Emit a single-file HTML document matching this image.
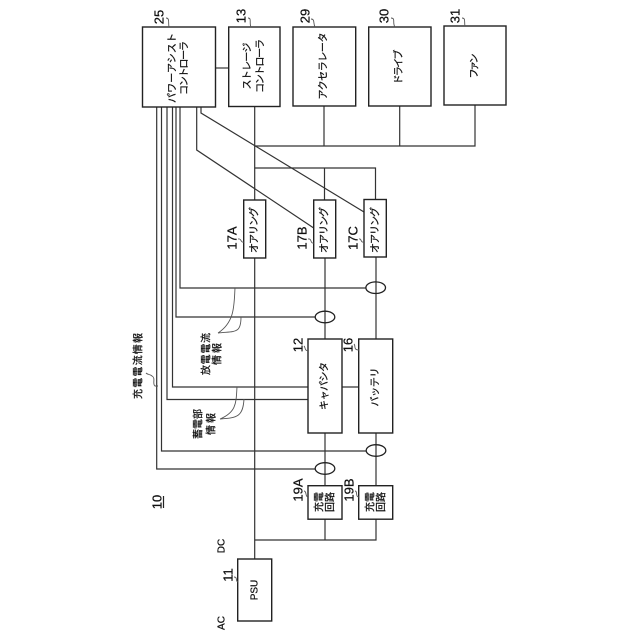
<!DOCTYPE html>
<html lang="ja"><head><meta charset="utf-8"><style>
html,body{margin:0;padding:0;background:#fff}
svg{display:block}
text{font-family:"Liberation Sans","Noto Sans CJK JP",sans-serif;fill:#111;stroke:#111;stroke-width:.25;text-anchor:middle;dominant-baseline:central;font-size:10px}
.n{font-size:13px}
.b{fill:#fff;stroke:#222;stroke-width:1.4}
.l{fill:none;stroke:#333;stroke-width:1.2}
.t{fill:none;stroke:#555;stroke-width:.9}
</style></head><body>
<svg width="640" height="640" viewBox="0 0 640 640" xmlns="http://www.w3.org/2000/svg">
<!-- wires -->
<g class="l">
<path d="M215.500 68H229"/>
<path d="M254.700 106V559"/>
<path d="M254.700 146H475V105M324 106V146M399.700 106V146"/>
<path d="M254.700 168H375.500V200M324.500 168V200"/>
<path d="M196.700 107V150L313.700 228"/>
<path d="M201 107V113L364 212"/>
<path d="M180 107V288H366"/>
<path d="M176 107V317H315"/>
<path d="M172.500 107V387H308"/>
<path d="M167 107V399.500H308"/>
<path d="M161.500 107V451H366"/>
<path d="M156.700 107V469H315"/>
<path d="M325 258V339M376 257V339M342 387H359"/>
<path d="M325 433V486M376 433V486"/>
<path d="M254.700 540H376V519M325 540V519"/>
</g>
<!-- boxes -->
<rect class="b" x="142.500" y="27" width="73" height="80"/>
<rect class="b" x="228.700" y="27" width="51.300" height="79.500"/>
<rect class="b" x="293" y="27" width="62.700" height="79"/>
<rect class="b" x="368.700" y="27" width="62.300" height="79"/>
<rect class="b" x="444" y="26" width="62" height="79"/>
<rect class="b" x="243.700" y="200" width="22" height="58"/>
<rect class="b" x="313.700" y="200" width="22" height="58"/>
<rect class="b" x="364" y="199.500" width="22.300" height="57.500"/>
<rect class="b" x="308" y="339" width="34" height="94"/>
<rect class="b" x="358.700" y="339" width="34" height="94"/>
<rect class="b" x="308" y="485.700" width="34" height="33.500"/>
<rect class="b" x="358.700" y="485.700" width="34" height="33.500"/>
<rect class="b" x="237.700" y="559" width="34" height="62"/>
<!-- sensors -->
<g fill="none" stroke="#222" stroke-width="1.300">
<ellipse cx="375.700" cy="287.700" rx="9.800" ry="5.800"/>
<ellipse cx="325" cy="317" rx="9.800" ry="5.800"/>
<ellipse cx="376" cy="450.500" rx="9.800" ry="5.800"/>
<ellipse cx="325" cy="468.500" rx="9.800" ry="5.800"/>
</g>
<!-- leaders -->
<g class="t">
<path d="M235 288C234 305 235 322 218 333M241 317C241 334 235 331 218 333"/>
<path d="M237 387C236 402 237 412 220 419M244 399C243 416 238 418 220 419"/>
<path d="M158 386H155C152 384 156 378 152 376C150 374 148 375 146 373"/>
<path d="M166 18C170 18 168 23 169 27"/>
<path d="M248 18C252 18 249 23 251 27"/>
<path d="M311 19C315 19 313 23 315 27"/>
<path d="M391 18C396 18 392 23 395 27"/>
<path d="M462 18C466 18 464 22 465 26"/>
<path d="M238 239C242 238 240 243 244 242"/>
<path d="M308 239C312 238 310 244 314 243"/>
<path d="M359 239C362 238 360 243 364 242"/>
<path d="M304 346C306 348 304 350 308 351"/>
<path d="M354 344C356 346 353 350 359 350"/>
<path d="M304 491C307 491 305 497 308 497"/>
<path d="M355 491C358 491 355 497 359 497"/>
<path d="M234 577C238 577 235 581 238 582"/>
</g>
<!-- labels -->
<text transform="translate(173 68) rotate(-90)" textLength="70">パワーアシスト</text>
<text transform="translate(185 68) rotate(-90)" textLength="54">コントローラ</text>
<text transform="translate(248 66) rotate(-90)" textLength="47">ストレージ</text>
<text transform="translate(261 66) rotate(-90)" textLength="54">コントローラ</text>
<text transform="translate(324 66) rotate(-90)" textLength="67">アクセラレータ</text>
<text transform="translate(399.500 67) rotate(-90)" textLength="35">ドライブ</text>
<text transform="translate(475 66) rotate(-90)" textLength="25">ファン</text>
<text transform="translate(255 230) rotate(-90)" textLength="46">オアリング</text>
<text transform="translate(325 230) rotate(-90)" textLength="46">オアリング</text>
<text transform="translate(376 230) rotate(-90)" textLength="46">オアリング</text>
<text transform="translate(325 386) rotate(-90)" textLength="48">キャパシタ</text>
<text transform="translate(376 387) rotate(-90)" textLength="39">バッテリ</text>
<text transform="translate(320 502) rotate(-90)">充電</text>
<text transform="translate(331 502) rotate(-90)">回路</text>
<text transform="translate(371 502) rotate(-90)">充電</text>
<text transform="translate(382 502) rotate(-90)">回路</text>
<text transform="translate(255 590) rotate(-90)">PSU</text>
<text transform="translate(222 546) rotate(-90)">DC</text>
<text transform="translate(222 623) rotate(-90)">AC</text>
<text class="n" transform="translate(157 502) rotate(-90)">10</text>
<path d="M163.500 496V508" stroke="#222" stroke-width="1.200"/>
<text class="n" transform="translate(228 575) rotate(-90)">11</text>
<text class="n" transform="translate(298 490) rotate(-90)">19A</text>
<text class="n" transform="translate(349 490) rotate(-90)">19B</text>
<text class="n" transform="translate(159 17) rotate(-90)">25</text>
<text class="n" transform="translate(241 16) rotate(-90)">13</text>
<text class="n" transform="translate(305 16) rotate(-90)">29</text>
<text class="n" transform="translate(384 16) rotate(-90)">30</text>
<text class="n" transform="translate(455 16) rotate(-90)">31</text>
<text class="n" transform="translate(232 238) rotate(-90)">17A</text>
<text class="n" transform="translate(302 238) rotate(-90)">17B</text>
<text class="n" transform="translate(353 238) rotate(-90)">17C</text>
<text class="n" transform="translate(298 345) rotate(-90)">12</text>
<text class="n" transform="translate(348 345) rotate(-90)">16</text>
<text transform="translate(139 366) rotate(-90)" textLength="66">充電電流情報</text>
<text transform="translate(207 354) rotate(-90)" textLength="42">放電電流</text>
<text transform="translate(218 354) rotate(-90)" textLength="22">情報</text>
<text transform="translate(199 424) rotate(-90)" textLength="30">蓄電部</text>
<text transform="translate(212 424) rotate(-90)" textLength="22">情報</text>
</svg>
</body></html>
